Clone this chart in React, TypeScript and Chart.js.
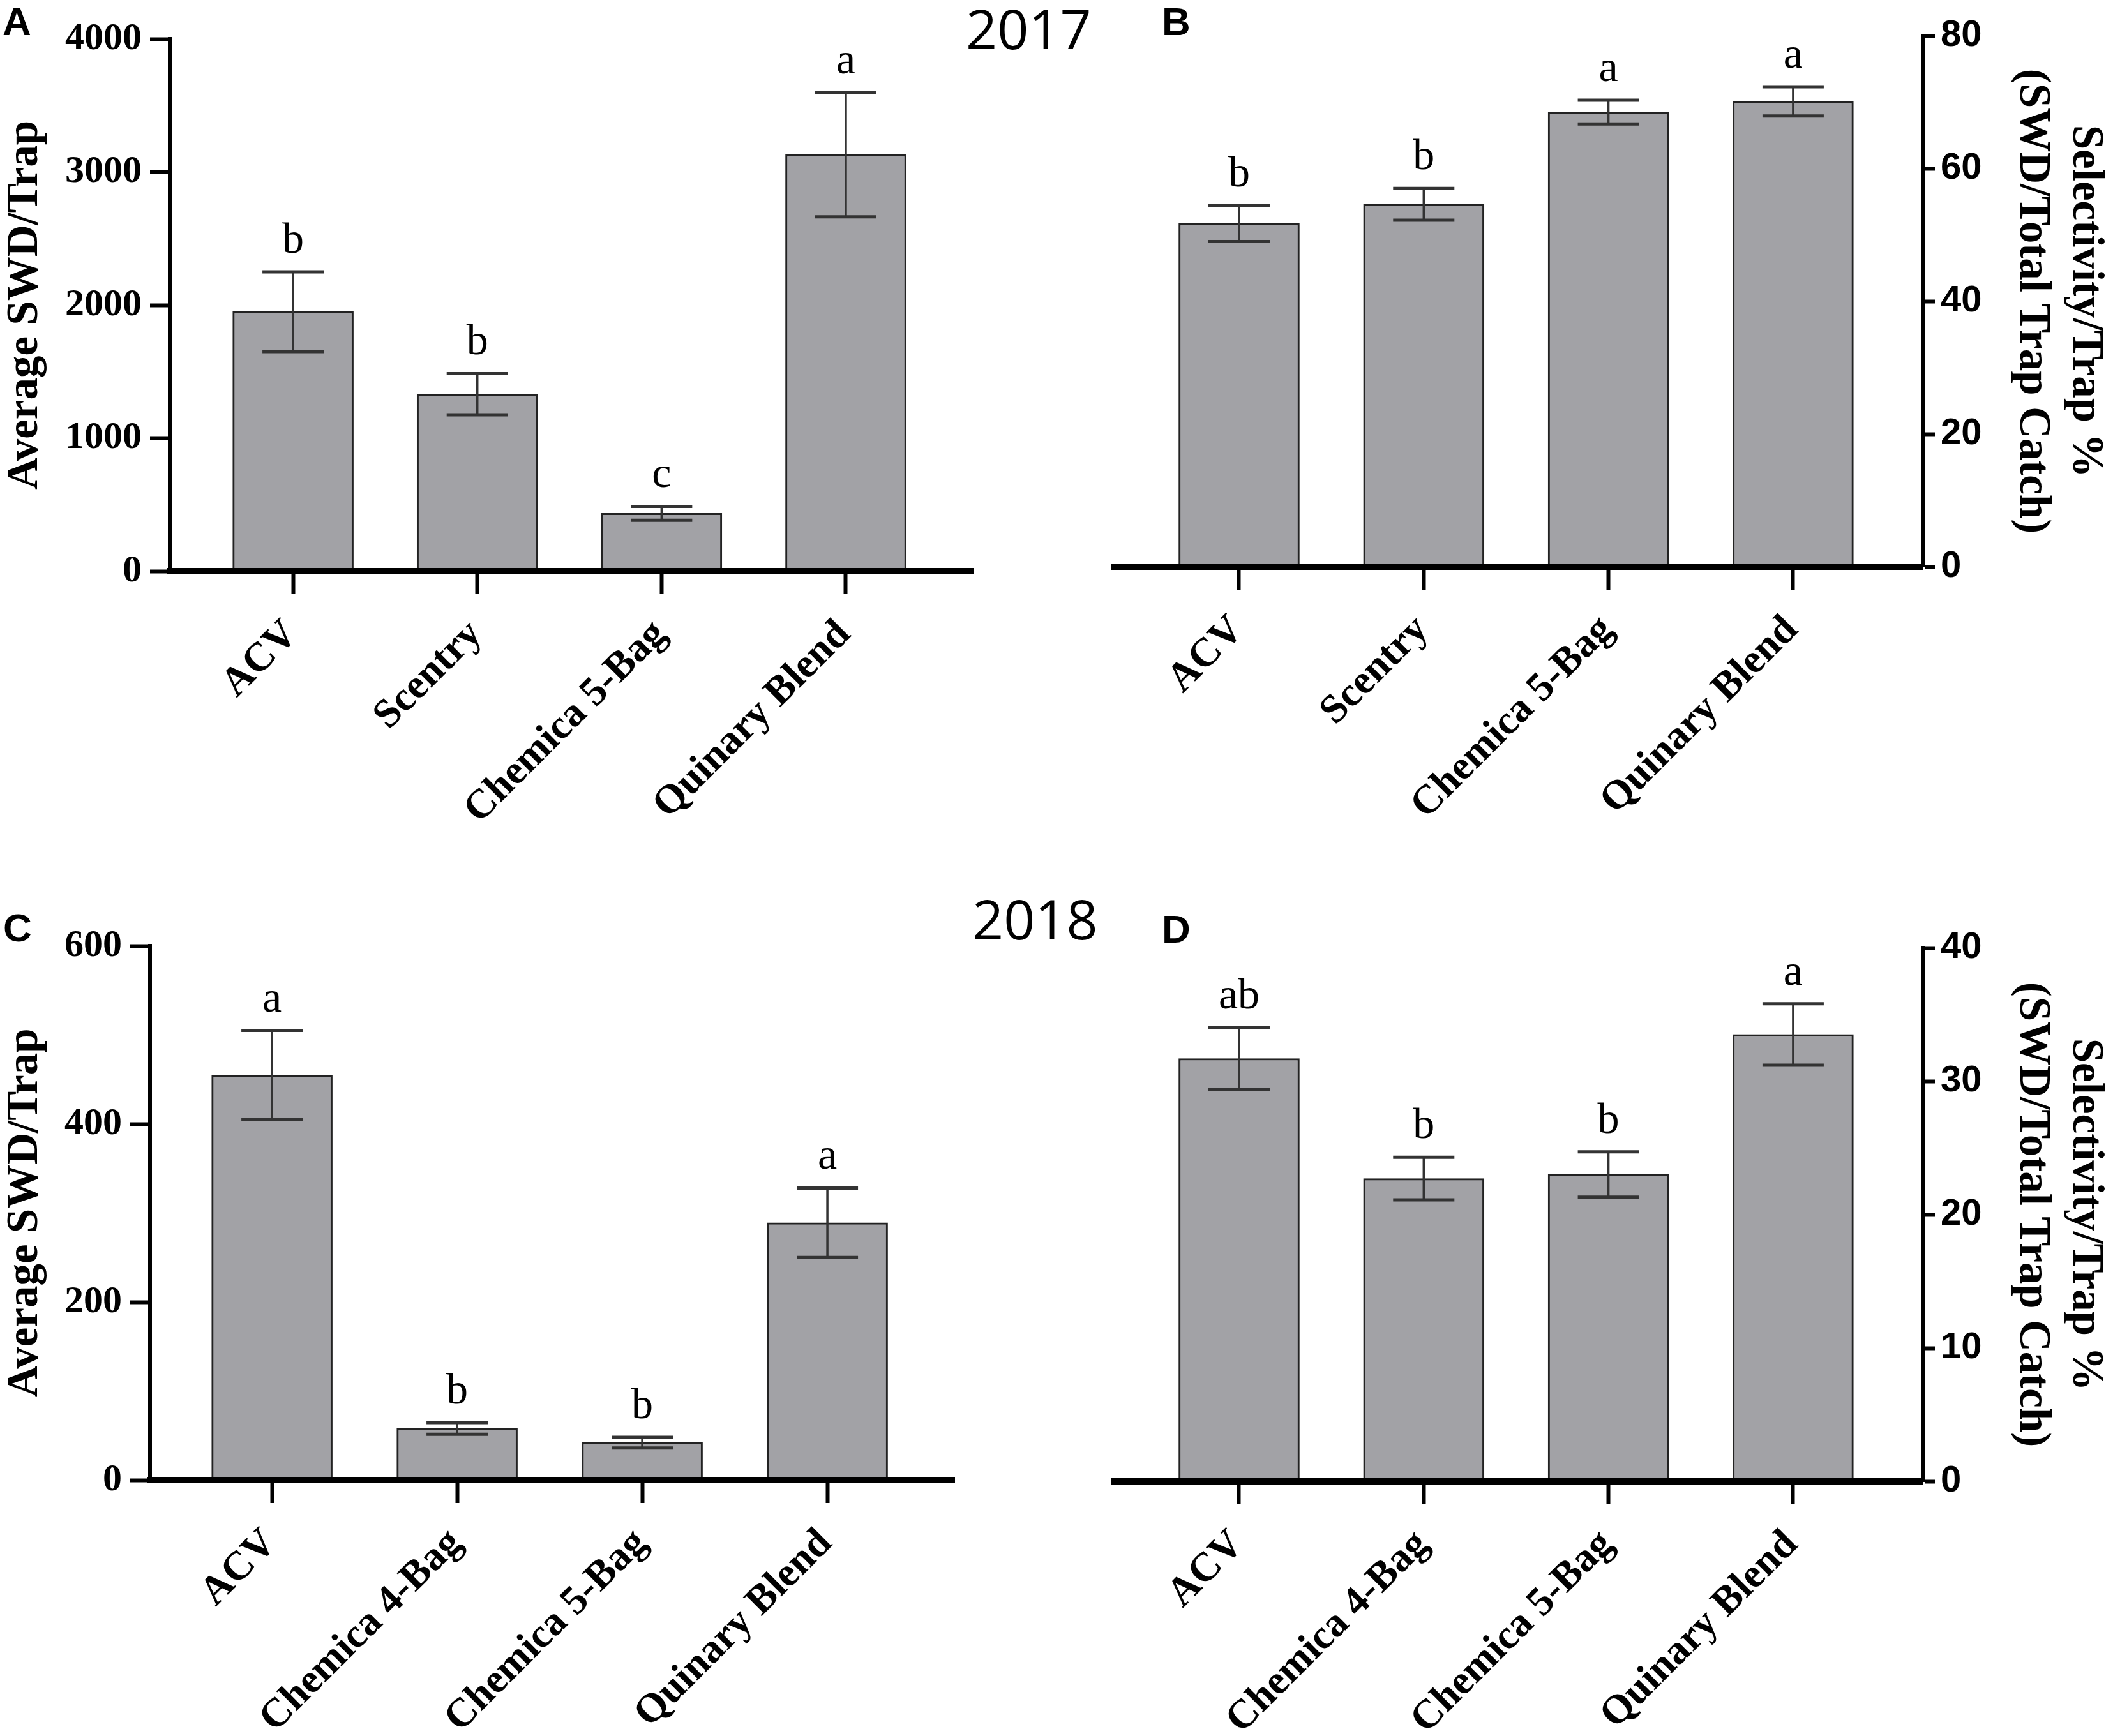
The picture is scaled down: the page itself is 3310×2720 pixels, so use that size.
import React, { useEffect, useRef } from 'react';
import { Chart, registerables } from 'chart.js';

Chart.register(...registerables);

// ---------- data ----------
const categories2017 = ['ACV', 'Scentry', 'Chemica 5-Bag', 'Quinary Blend'];
const categories2018 = ['ACV', 'Chemica 4-Bag', 'Chemica 5-Bag', 'Quinary Blend'];

const meansA = [1950, 1330, 435, 3130];
const errorsA = [300, 155, 52, 467];
const lettersA = ['b', 'b', 'c', 'a'];
const ticksA = [0, 1000, 2000, 3000, 4000];

const meansB = [51.7, 54.6, 68.5, 70.1];
const errorsB = [2.7, 2.4, 1.8, 2.2];
const lettersB = ['b', 'b', 'a', 'a'];
const ticksB = [0, 20, 40, 60, 80];

const meansC = [455, 58, 42, 289];
const errorsC = [50, 6.6, 6, 39];
const lettersC = ['a', 'b', 'b', 'a'];
const ticksC = [0, 200, 400, 600];

const meansD = [31.7, 22.7, 23.0, 33.5];
const errorsD = [2.3, 1.6, 1.7, 2.3];
const lettersD = ['ab', 'b', 'b', 'a'];
const ticksD = [0, 10, 20, 30, 40];

const titleCount = 'Average SWD/Trap';
const titleSelect = ['Selectivity/Trap %', '(SWD/Total Trap Catch)'];

// ---------- styles ----------
const SERIF = "'Liberation Serif', 'Times New Roman', serif";
const SANS = "'Liberation Sans', Arial, sans-serif";
const YEAR_FONT = "'Open Sans', 'Noto Sans', sans-serif";
const BAR_FILL = '#a2a2a6';
const BAR_EDGE = '#222222';
const ERR_COLOR = '#333333';

const annotPlugin = {
  id: 'annot',
  afterDatasetsDraw(chart: any, _args: any, opts: any) {
    const ctx = chart.ctx;
    const y = chart.scales.y;
    const meta = chart.getDatasetMeta(0);
    const data = chart.data.datasets[0].data;
    ctx.save();
    meta.data.forEach((bar: any, i: number) => {
      const v = data[i].y;
      const e = opts.errors[i];
      const cx = bar.x;
      const top = y.getPixelForValue(v + e);
      const bot = y.getPixelForValue(v - e);
      const half = 48;
      ctx.strokeStyle = ERR_COLOR;
      ctx.lineWidth = 3.5;
      ctx.beginPath();
      ctx.moveTo(cx, top);
      ctx.lineTo(cx, bot);
      ctx.stroke();
      ctx.lineWidth = 5;
      ctx.beginPath();
      ctx.moveTo(cx - half, top);
      ctx.lineTo(cx + half, top);
      ctx.moveTo(cx - half, bot);
      ctx.lineTo(cx + half, bot);
      ctx.stroke();
      ctx.fillStyle = '#000';
      ctx.font = `68px ${SERIF}`;
      ctx.textAlign = 'center';
      ctx.textBaseline = 'alphabetic';
      ctx.fillText(opts.letters[i], cx, top - 30);
    });
    ctx.fillStyle = '#000';
    ctx.textAlign = 'left';
    ctx.textBaseline = 'alphabetic';
    ctx.font = `bold 62px ${SANS}`;
    ctx.fillText(opts.panel, opts.panelX, opts.panelY);
    if (opts.year) {
      ctx.font = `86px ${YEAR_FONT}`;
      ctx.fillText(opts.year, opts.yearX, opts.yearY);
    }
    ctx.restore();
  },
};

function makeConfig(p: any) {
  const right = p.yPos === 'right';
  return {
    type: 'bar',
    data: {
      datasets: [
        {
          data: p.cats.map((c: string, i: number) => ({ x: i, y: p.means[i] })),
          backgroundColor: BAR_FILL,
          borderColor: BAR_EDGE,
          borderWidth: 3,
          barThickness: 189,
        },
      ],
    },
    plugins: [annotPlugin],
    options: {
      responsive: false,
      animation: false,
      devicePixelRatio: 1,
      layout: { padding: p.padding },
      plugins: {
        legend: { display: false },
        tooltip: { enabled: false },
        annot: {
          errors: p.errors,
          letters: p.letters,
          panel: p.panel,
          panelX: p.panelX,
          panelY: p.panelY,
          year: p.year,
          yearX: p.yearX,
          yearY: p.yearY,
        },
      },
      scales: {
        x: {
          type: 'linear',
          offset: false,
          min: p.xMin,
          max: p.xMax,
          afterBuildTicks: (s: any) => {
            s.ticks = p.cats.map((_: string, i: number) => ({ value: i }));
          },
          afterFit: (s: any) => {
            s.height = p.xHeight;
          },
          ticks: {
            autoSkip: false,
            minRotation: 45,
            maxRotation: 45,
            padding: 26,
            labelOffset: -2,
            color: '#000',
            font: { family: SERIF, size: 64, weight: 'bold' },
            callback: (v: number) => p.cats[v],
          },
          grid: {
            display: true,
            offset: false,
            drawOnChartArea: false,
            drawTicks: true,
            tickLength: 36,
            tickWidth: 6,
            tickColor: '#000',
          },
          border: { display: true, color: '#000', width: 10, z: 1 },
        },
        y: {
          type: 'linear',
          position: p.yPos,
          min: 0,
          max: p.ticks[p.ticks.length - 1],
          afterBuildTicks: (s: any) => {
            s.ticks = p.ticks.map((v: number) => ({ value: v }));
          },
          afterFit: (s: any) => {
            s.width = p.yWidth;
          },
          ticks: {
            padding: right ? 9 : 13,
            color: '#000',
            callback: (v: number) => String(v),
            font: right
              ? { family: SANS, size: 58, weight: 'bold' }
              : { family: SERIF, size: 60, weight: 'bold' },
          },
          grid: {
            display: true,
            drawOnChartArea: false,
            drawTicks: true,
            tickLength: right ? 19 : 31,
            tickWidth: 6,
            tickColor: '#000',
          },
          border: { display: true, color: '#000', width: 6, z: 1 },
          title: {
            display: true,
            text: p.title,
            color: '#000',
            font: { family: SERIF, size: 69, weight: 'bold', lineHeight: right ? 1.2 : 1.1 },
            padding: { top: right ? 3 : 2, bottom: 0 },
          },
        },
      },
    },
  };
}

const panelA = makeConfig({
  cats: categories2017, means: meansA, errors: errorsA, letters: lettersA, ticks: ticksA,
  title: titleCount, yPos: 'left', yWidth: 266, xHeight: 455,
  padding: { left: 0, top: 61, right: 195, bottom: 0 },
  xMin: -0.669, xMax: 3.693,
  panel: 'A', panelX: 4, panelY: 55, year: '2017', yearX: 1513, yearY: 77,
});

const panelB = makeConfig({
  cats: categories2017, means: meansB, errors: errorsB, letters: lettersB, ticks: ticksB,
  title: titleSelect, yPos: 'right', yWidth: 298, xHeight: 462,
  padding: { left: 26, top: 56, right: 0, bottom: 0 },
  xMin: -0.674, xMax: 3.702,
  panel: 'B', panelX: 100, panelY: 55,
});

const panelC = makeConfig({
  cats: categories2018, means: meansC, errors: errorsC, letters: lettersC, ticks: ticksC,
  title: titleCount, yPos: 'left', yWidth: 235, xHeight: 401,
  padding: { left: 0, top: 102, right: 225, bottom: 0 },
  xMin: -0.659, xMax: 3.686,
  panel: 'C', panelX: 5, panelY: 95, year: '2018', yearX: 1523, yearY: 92,
});

const panelD = makeConfig({
  cats: categories2018, means: meansD, errors: errorsD, letters: lettersD, ticks: ticksD,
  title: titleSelect, yPos: 'right', yWidth: 298, xHeight: 399,
  padding: { left: 26, top: 105, right: 0, bottom: 0 },
  xMin: -0.674, xMax: 3.702,
  panel: 'D', panelX: 100, panelY: 97,
});

function Panel({ cfg, left, top, width, height }: any) {
  const ref = useRef<HTMLCanvasElement>(null);
  useEffect(() => {
    const chart = new Chart(ref.current as HTMLCanvasElement, cfg as any);
    return () => chart.destroy();
  }, []);
  return (
    <canvas
      ref={ref}
      width={width}
      height={height}
      style={{ position: 'absolute', left, top, width, height }}
    />
  );
}

export default function App() {
  return (
    <div
      style={{
        position: 'absolute',
        left: 0,
        top: 0,
        width: 3310,
        height: 2720,
        background: '#ffffff',
        overflow: 'hidden',
      }}
    >
      <Panel cfg={panelA} left={0} top={0} width={1720} height={1350} />
      <Panel cfg={panelB} left={1720} top={0} width={1590} height={1350} />
      <Panel cfg={panelC} left={0} top={1380} width={1720} height={1340} />
      <Panel cfg={panelD} left={1720} top={1380} width={1590} height={1340} />
    </div>
  );
}
